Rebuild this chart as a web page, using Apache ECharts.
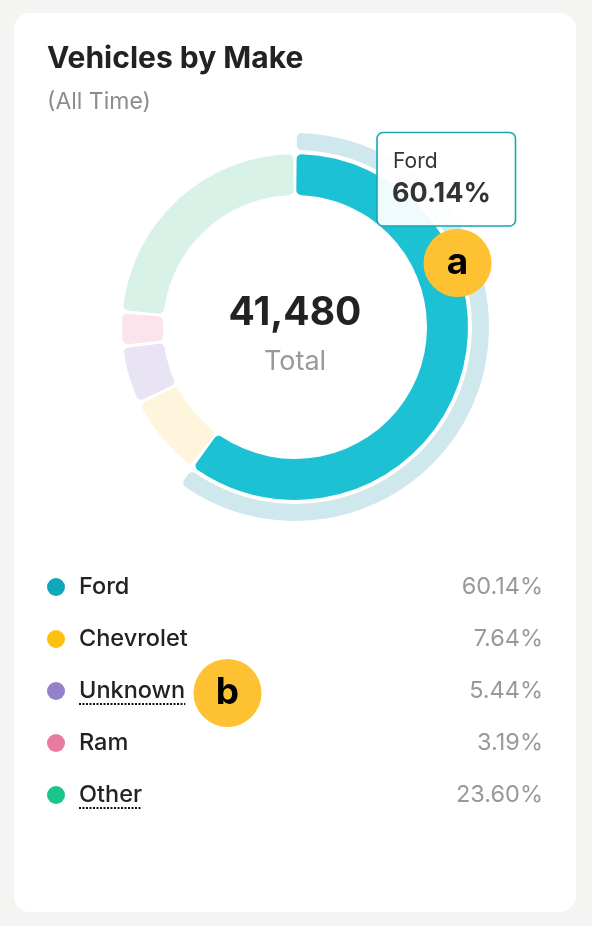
<!DOCTYPE html>
<html>
<head>
<meta charset="utf-8">
<script src="https://cdn.jsdelivr.net/npm/echarts@6/dist/echarts.min.js"></script>
<style>
  html, body { margin:0; padding:0; width:592px; height:926px; background:#f4f4f2; overflow:hidden; }
  #card { position:absolute; left:14px; top:13px; width:562px; height:899px; background:#fff; border-radius:16px; }
  #chart { position:absolute; left:0; top:0; width:592px; height:926px; }
</style>
</head>
<body>
<div id="card"></div>
<div id="chart"></div>
<script>
// ---- data ----
const categories = ['Ford', 'Chevrolet', 'Unknown', 'Ram', 'Other'];
const shares = [60.14, 7.64, 5.44, 3.19, 23.60];
const totalVehicles = 41480;
const legendColors = ['#10a7ba', '#fdc00f', '#9580cb', '#e879a0', '#1bc48c'];
const ringColors = ['#1cc1d3', '#fff4dc', '#e9e4f4', '#fbe4ec', '#d9f2e8'];
const dottedNames = ['Unknown', 'Other'];
const highlighted = 'Ford';

const FONT = 'Inter, "Noto Sans", sans-serif';
const chart = echarts.init(document.getElementById('chart'), null, { renderer: 'canvas' });

const cv = document.createElement('canvas').getContext('2d');
function textW(t, size, weight) { cv.font = (weight || 'normal') + ' ' + size + 'px Inter'; return cv.measureText(t).width; }

const fmtPct = v => v.toFixed(2) + '%';
const cx = 295, cy = 327;

const graphics = [];
// title
graphics.push({ type:'text', x:47, y:58.5, style:{ text:'Vehicles by Make', font:'bold 30px ' + FONT, fill:'#222', verticalAlign:'middle' } });
graphics.push({ type:'text', x:47, y:102, style:{ text:'(All Time)', font:'23px ' + FONT, fill:'#8c8c8c', verticalAlign:'middle' } });
// center
graphics.push({ type:'text', x:cx, y:313, style:{ text:totalVehicles.toLocaleString('en-US'), font:'bold 39px ' + FONT, fill:'#222', align:'center', verticalAlign:'middle' } });
graphics.push({ type:'text', x:cx, y:362, style:{ text:'Total', font:'27px ' + FONT, fill:'#999', align:'center', verticalAlign:'middle' } });
// legend
categories.forEach((name, i) => {
  const y = 587 + i * 52;
  graphics.push({ type:'circle', shape:{ cx:56, cy:y, r:9 }, style:{ fill:legendColors[i] } });
  graphics.push({ type:'text', x:79, y:y, style:{ text:name, font:'500 23.5px ' + FONT, fill:'#222', verticalAlign:'middle' } });
  graphics.push({ type:'text', x:543, y:y, style:{ text:fmtPct(shares[i]), font:'23.5px ' + FONT, fill:'#999', align:'right', verticalAlign:'middle' } });
  if (dottedNames.includes(name)) {
    const w = textW(name, 23.5, '500');
    graphics.push({ type:'line', shape:{ x1:79, y1:y+13, x2:79+w, y2:y+13 }, style:{ stroke:'#111', lineWidth:2, lineDash:[2,1.5] } });
  }
});
// tooltip (static)
const hi = categories.indexOf(highlighted);
graphics.push({ type:'rect', shape:{ x:377, y:132.5, width:138.5, height:93.5, r:6 }, style:{ fill:'rgba(255,255,255,0.93)', stroke:'#17a5b6', lineWidth:1.6 }, z:100 });
graphics.push({ type:'text', x:393, y:162, style:{ text:categories[hi], font:'21px ' + FONT, fill:'#333', verticalAlign:'middle' }, z:101 });
graphics.push({ type:'text', x:392, y:194, style:{ text:fmtPct(shares[hi]), font:'bold 27px ' + FONT, fill:'#333', verticalAlign:'middle' }, z:101 });
// badges
function badge(x, y, letter) {
  graphics.push({ type:'circle', shape:{ cx:x, cy:y, r:34 }, style:{ fill:'#fdc132' }, z:110 });
  graphics.push({ type:'text', x:x, y:y, style:{ text:letter, font:'bold 37px ' + FONT, fill:'#000', align:'center', verticalAlign:'middle' }, z:111 });
}
badge(457.5, 263, 'a');
badge(227.5, 693, 'b');

chart.setOption({
  animation: false,
  series: [
    {
      type: 'pie',
      center: [cx, cy],
      radius: [132, 173],
      startAngle: 90,
      clockwise: true,
      padAngle: 1.1,
      silent: true,
      label: { show: false },
      labelLine: { show: false },
      itemStyle: { borderRadius: 5 },
      data: categories.map((n, i) => ({ name: n, value: shares[i], itemStyle: { color: ringColors[i] } }))
    },
    {
      type: 'pie',
      center: [cx, cy],
      radius: [177, 194],
      startAngle: 90,
      clockwise: true,
      padAngle: 1.1,
      silent: true,
      label: { show: false },
      labelLine: { show: false },
      itemStyle: { borderRadius: 5 },
      data: categories.map((n, i) => ({ name: n, value: shares[i], itemStyle: { color: n === highlighted ? '#cfe8ed' : 'rgba(0,0,0,0)' } }))
    }
  ],
  graphic: graphics
});
</script>
</body>
</html>
